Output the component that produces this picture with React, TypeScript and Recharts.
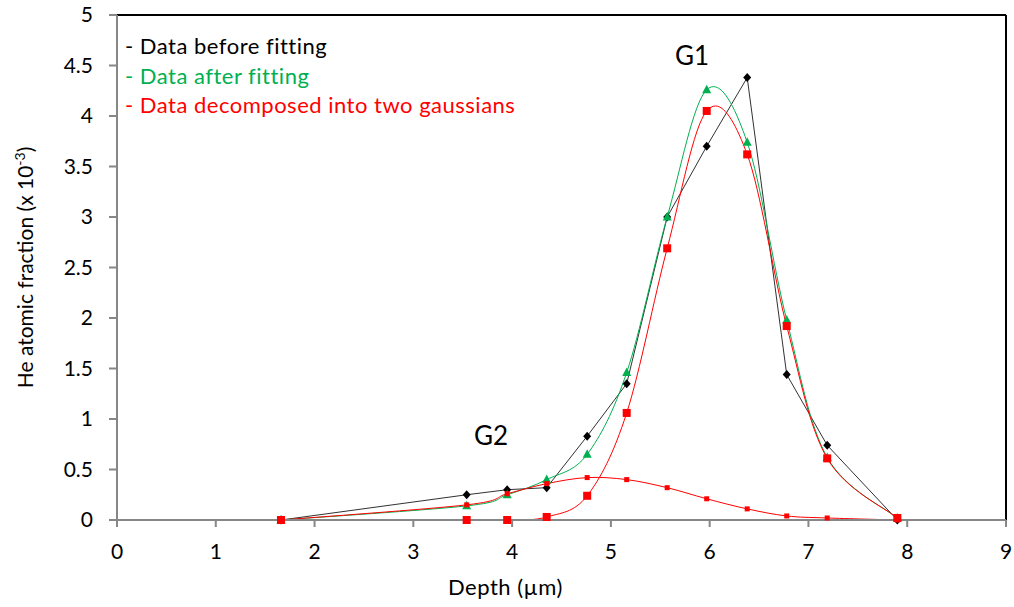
import React from 'react';
import { LineChart, Line, XAxis, YAxis, ReferenceLine } from 'recharts';

const depth = [1.66, 3.54, 3.95, 4.35, 4.76, 5.16, 5.57, 5.97, 6.38, 6.78, 7.19, 7.9];
const beforeFitting = [0, 0.25, 0.3, 0.32, 0.83, 1.35, 3.0, 3.7, 4.38, 1.44, 0.74, 0.0];
const afterFitting = [0, 0.14, 0.25, 0.4, 0.65, 1.46, 3.0, 4.26, 3.74, 1.98, 0.62, 0.02];
const gaussianG1 = [0, 0, 0, 0.03, 0.24, 1.06, 2.69, 4.05, 3.62, 1.92, 0.61, 0.02];
const gaussianG2 = [0, 0.15, 0.26, 0.36, 0.42, 0.4, 0.32, 0.21, 0.11, 0.04, 0.02, 0.0];

const xTicks = [0, 1, 2, 3, 4, 5, 6, 7, 8, 9];
const yTicks = [0, 0.5, 1, 1.5, 2, 2.5, 3, 3.5, 4, 4.5, 5];

const legendLines = [
  { text: '- Data before fitting', color: '#000000' },
  { text: '- Data after fitting', color: '#00B050' },
  { text: '- Data decomposed into two gaussians', color: '#FF0000' },
];

const chartData = depth.map((d, i) => ({
  depth: d,
  before: beforeFitting[i],
  after: afterFitting[i],
  g1: gaussianG1[i],
  g2: gaussianG2[i],
}));

const font = 'Lato, "Open Sans", sans-serif';
const axisGrey = '#878787';
const green = '#00B050';
const red = '#FF0000';

// Catmull-Rom style smoothing, close to what spreadsheet "smoothed line" does
const smoothCurve = (context: any) => {
  let pts: number[][] = [];
  return {
    areaStart() {},
    areaEnd() {},
    lineStart() {
      pts = [];
    },
    point(x: number, y: number) {
      pts.push([+x, +y]);
    },
    lineEnd() {
      const n = pts.length;
      if (!n) return;
      context.moveTo(pts[0][0], pts[0][1]);
      for (let i = 0; i < n - 1; i++) {
        const p0 = pts[Math.max(i - 1, 0)];
        const p1 = pts[i];
        const p2 = pts[i + 1];
        const p3 = pts[Math.min(i + 2, n - 1)];
        context.bezierCurveTo(
          p1[0] + (p2[0] - p0[0]) / 6,
          p1[1] + (p2[1] - p0[1]) / 6,
          p2[0] - (p3[0] - p1[0]) / 6,
          p2[1] - (p3[1] - p1[1]) / 6,
          p2[0],
          p2[1],
        );
      }
    },
  };
};

const diamond = (p: any) => (
  <path
    key={`d-${p.index}`}
    d={`M${p.cx},${p.cy - 4.5}L${p.cx + 4},${p.cy}L${p.cx},${p.cy + 4.5}L${p.cx - 4},${p.cy}Z`}
    fill="#000000"
  />
);

const triangle = (p: any) => (
  <path
    key={`t-${p.index}`}
    d={`M${p.cx},${p.cy - 5}L${p.cx + 4.5},${p.cy + 3.5}L${p.cx - 4.5},${p.cy + 3.5}Z`}
    fill={green}
  />
);

const bigSquare = (p: any) => (
  <rect key={`s-${p.index}`} x={p.cx - 4} y={p.cy - 4} width={8} height={8} fill={red} />
);

const smallSquare = (p: any) => (
  <rect key={`q-${p.index}`} x={p.cx - 2.5} y={p.cy - 2.5} width={5} height={5} fill={red} />
);

const YTitle = ({ viewBox }: any) => {
  const cy = viewBox.y + viewBox.height / 2;
  return (
    <text
      transform={`translate(33,${cy}) rotate(-90)`}
      textAnchor="middle"
      fontFamily={font}
      fontSize={21}
      fill="#000000"
    >
      He atomic fraction (x 10
      <tspan dy={-8} fontSize={14}>
        -3
      </tspan>
      <tspan dy={8}>)</tspan>
    </text>
  );
};

const XTitle = ({ viewBox }: any) => (
  <text
    x={viewBox.x + viewBox.width / 2 - 56}
    y={595}
    textAnchor="middle"
    fontFamily={font}
    fontSize={22}
    letterSpacing={0.5}
    fill="#000000"
  >
    Depth (µm)
  </text>
);

const tickStyle = { fontFamily: font, fontSize: 21, fill: '#000000' };

const App = () => (
  <div style={{ position: 'absolute', left: 0, top: 0 }}>
    <LineChart width={1014} height={607} data={chartData} margin={{ top: 15, right: 8, bottom: 27, left: 0 }}>
      <XAxis
        dataKey="depth"
        type="number"
        domain={[0, 9]}
        ticks={xTicks}
        interval={0}
        height={60}
        stroke={axisGrey}
        strokeWidth={2}
        tickSize={7}
        tickMargin={17}
        tick={tickStyle}
        label={<XTitle />}
      />
      <YAxis
        type="number"
        domain={[0, 5]}
        ticks={yTicks}
        interval={0}
        width={117}
        stroke={axisGrey}
        strokeWidth={2}
        tickSize={8}
        tickMargin={16}
        tick={tickStyle}
        label={<YTitle />}
      />
      <ReferenceLine y={5} stroke="#000000" strokeWidth={2} />
      <ReferenceLine x={9} stroke="#000000" strokeWidth={2} />
      <Line
        dataKey="before"
        type="linear"
        stroke="#1a1a1a"
        strokeWidth={0.9}
        dot={diamond}
        activeDot={false}
        isAnimationActive={false}
      />
      <Line
        dataKey="after"
        type={smoothCurve as any}
        stroke={green}
        strokeWidth={1}
        dot={triangle}
        activeDot={false}
        isAnimationActive={false}
      />
      <Line
        dataKey="g1"
        type={smoothCurve as any}
        stroke={red}
        strokeWidth={1}
        dot={bigSquare}
        activeDot={false}
        isAnimationActive={false}
      />
      <Line
        dataKey="g2"
        type={smoothCurve as any}
        stroke={red}
        strokeWidth={1}
        dot={smallSquare}
        activeDot={false}
        isAnimationActive={false}
      />
      <g fontFamily={font}>
        {legendLines.map((l, i) => (
          <text key={l.text} x={125} y={54 + i * 29.5} fontSize={22} letterSpacing={0.5} fill={l.color}>
            {l.text}
          </text>
        ))}
        <text x={692} y={65} textAnchor="middle" fontSize={26} fill="#000000">
          G1
        </text>
        <text x={491} y={445} textAnchor="middle" fontSize={26} fill="#000000">
          G2
        </text>
      </g>
    </LineChart>
  </div>
);

export default App;
